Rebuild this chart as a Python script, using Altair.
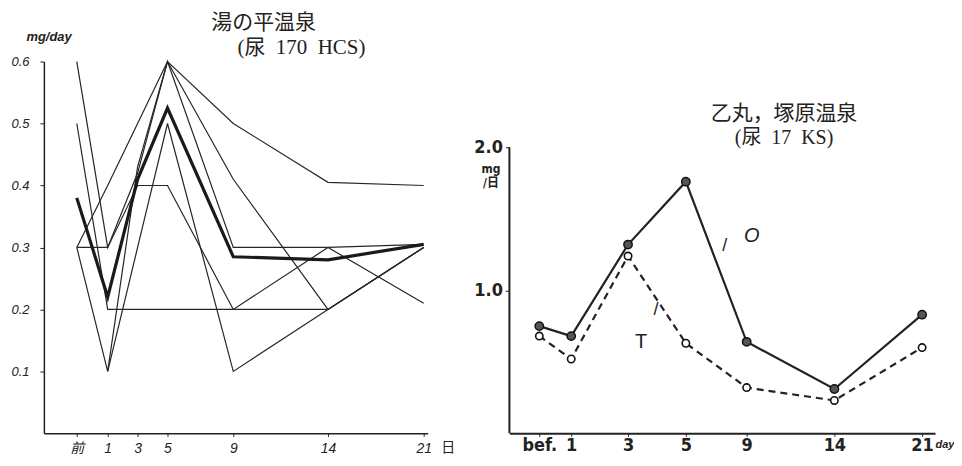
import json
import altair as alt
import pandas as pd

# ---------------- data ----------------
days = [-1, 1, 3, 5, 9, 14, 21]

# 湯の平温泉 (尿 170 HCS): individual curves, mg/day
yunohira_a = [0.60, 0.30, 0.42, 0.60, 0.50, 0.405, 0.40]
yunohira_b = [0.50, 0.20, 0.20, 0.20, 0.20, 0.20, 0.30]
yunohira_c = [0.30, 0.30, 0.40, 0.40, 0.20, 0.30, 0.21]
yunohira_d = [0.30, 0.10, 0.43, 0.60, 0.30, 0.30, 0.305]
yunohira_e = [0.30, 0.40, 0.50, 0.60, 0.41, 0.20, 0.30]
yunohira_f = [None, 0.10, 0.30, 0.50, 0.10, 0.20, 0.30]
yunohira_mean = [0.38, 0.22, 0.41, 0.525, 0.285, 0.28, 0.305]

# 乙丸，塚原温泉 (尿 17 KS)
tsukahara_O = [0.75, 0.68, 1.32, 1.76, 0.64, 0.31, 0.83]
tsukahara_T = [0.68, 0.52, 1.24, 0.63, 0.32, 0.23, 0.60]

left_y_ticks = [0.1, 0.2, 0.3, 0.4, 0.5, 0.6]
right_y_ticks = [1.0, 2.0]
left_day_labels = ["前", "1", "3", "5", "9", "14", "21"]
right_day_labels = ["bef.", "1", "3", "5", "9", "14", "21"]

# ---------------- tables ----------------
rows = []
for name, vals in [("a", yunohira_a), ("b", yunohira_b), ("c", yunohira_c),
                   ("d", yunohira_d), ("e", yunohira_e), ("f", yunohira_f)]:
    for d, v in zip(days, vals):
        if v is not None:
            rows.append({"day": d, "value": v, "series": name})
left_df = pd.DataFrame(rows)
mean_df = pd.DataFrame({"day": days, "value": yunohira_mean})

right_rows = []
for name, vals in [("O", tsukahara_O), ("T", tsukahara_T)]:
    for d, v in zip(days, vals):
        right_rows.append({"day": d, "value": v, "series": name})
right_df = pd.DataFrame(right_rows)

INK = "#222222"
TITLE_FONT = "Liberation Serif, Noto Sans CJK JP"
HAND = "Liberation Sans, Noto Sans CJK JP"
HAND2 = "DejaVu Sans Condensed, DejaVu Sans, Noto Sans CJK JP"


def label_expr(labels):
    return "%s[indexof(%s, datum.value)]" % (
        json.dumps(labels, ensure_ascii=False), json.dumps(days))


# ---------------- left panel ----------------
xl = alt.X(
    "day:Q",
    scale=alt.Scale(domain=[-3.2, -1, 1, 3, 5, 9, 14, 21, 21.3],
                    range=[0, 33, 64, 94, 124, 190, 285, 381, 385],
                    nice=False, zero=False),
    axis=alt.Axis(values=days, labelExpr=label_expr(left_day_labels),
                  title="日", titleX=405, titleY=14, titleAlign="center",
                  titleBaseline="middle", titleFontSize=14, titleFont=TITLE_FONT,
                  titleFontWeight="normal", titleColor=INK,
                  labelFont=HAND, labelFontStyle="italic", labelFontSize=14,
                  labelColor=INK, tickSize=3, labelPadding=5, grid=False,
                  domainColor=INK, tickColor=INK, domainWidth=1.5),
)
yl = alt.Y(
    "value:Q",
    scale=alt.Scale(domain=[0, 0.6], nice=False, zero=False),
    axis=alt.Axis(values=left_y_ticks, format=".1f", title="mg/day",
                  titleAngle=0, titleX=-18, titleY=-25, titleAlign="left",
                  titleBaseline="middle", titleFont=HAND, titleFontStyle="italic",
                  titleFontSize=13, titleFontWeight="bold", titleColor=INK,
                  labelFont=HAND, labelFontStyle="italic", labelFontSize=13,
                  labelColor=INK, tickSize=4, labelPadding=11, grid=False,
                  domainColor=INK, tickColor=INK, domainWidth=1.5),
)

thin = alt.Chart(left_df).mark_line(color="#262626", strokeWidth=1.2).encode(
    x=xl, y=yl, detail="series:N")
thick = alt.Chart(mean_df).mark_line(color="#1a1a1a", strokeWidth=3.2).encode(
    x=xl, y=yl)

left = alt.layer(thin, thick).properties(
    width=385, height=373,
    title=alt.TitleParams(
        text="湯の平温泉",
        subtitle="\u200b" + "\u00a0" * 5 + "(尿\u00a0\u00a0170\u00a0\u00a0HCS)",
        anchor="start", frame="group", dx=168, dy=31, offset=4,
        font=TITLE_FONT, subtitleFont=TITLE_FONT, fontSize=21,
        subtitleFontSize=21, fontWeight="normal", color=INK,
        subtitleColor=INK, subtitlePadding=4),
)

# ---------------- right panel ----------------
xr = alt.X(
    "day:Q",
    scale=alt.Scale(domain=[-3.13, -1, 1, 3, 5, 9, 14, 21, 22],
                    range=[0, 30, 62, 119, 177, 238, 326, 414, 427],
                    nice=False, zero=False),
    axis=alt.Axis(values=days, labelExpr=label_expr(right_day_labels),
                  title="day", titleX=427, titleY=11, titleAlign="left",
                  titleBaseline="middle", titleFontSize=11, titleFont=HAND,
                  titleFontWeight="bold", titleFontStyle="italic",
                  titleColor=INK,
                  labelFont=HAND2, labelFontSize=18, labelFontWeight="bold",
                  labelColor=INK, tickSize=3, labelPadding=0, grid=False,
                  domainColor=INK, tickColor=INK, domainWidth=2),
)
yr = alt.Y(
    "value:Q",
    scale=alt.Scale(domain=[0, 2.6], nice=False, zero=False),
    axis=alt.Axis(values=right_y_ticks, format=".1f", domain=False,
                  title=["mg", "/日"], titleAngle=0, titleX=-19, titleY=102,
                  titleAlign="center", titleBaseline="top", titleFont=HAND2,
                  titleFontSize=12, titleFontWeight="bold", titleColor=INK,
                  labelFont=HAND2, labelFontSize=18, labelFontWeight="bold",
                  labelColor=INK, tickSize=4, labelPadding=3, grid=False,
                  tickColor=INK),
)

base_r = alt.Chart(right_df)
axis_line = alt.Chart(alt.Data(values=[{}])).mark_rule(
    color=INK, strokeWidth=2).encode(
    x=alt.value(0), y=alt.datum(0), y2=alt.datum(2.0))
o_line = base_r.transform_filter(alt.datum.series == "O").mark_line(
    color=INK, strokeWidth=2.2).encode(x=xr, y=yr)
t_line = base_r.transform_filter(alt.datum.series == "T").mark_line(
    color=INK, strokeWidth=2.2, strokeDash=[7, 5]).encode(x=xr, y=yr)
o_pts = base_r.transform_filter(alt.datum.series == "O").mark_point(
    filled=True, fill="#555555", stroke="#111111", strokeWidth=1.5,
    size=70, opacity=1).encode(x=xr, y=yr)
t_pts = base_r.transform_filter(alt.datum.series == "T").mark_point(
    filled=True, fill="white", stroke="#111111", strokeWidth=1.6,
    size=55, opacity=1).encode(x=xr, y=yr)

o_at5 = base_r.transform_filter((alt.datum.series == "O") & (alt.datum.day == 5))
t_at5 = base_r.transform_filter((alt.datum.series == "T") & (alt.datum.day == 5))
o_lab = o_at5.mark_text(font=HAND, fontStyle="italic", fontSize=20, color=INK,
                        dx=66, dy=55).encode(x=xr, y=yr, text="series:N")
o_tick = o_at5.mark_text(font=HAND, fontSize=18, color=INK, dx=39, dy=65,
                         text="/").encode(x=xr, y=yr)
t_lab = t_at5.mark_text(font=HAND, fontSize=20, color=INK,
                        dx=-45, dy=-1).encode(x=xr, y=yr, text="series:N")
t_tick = t_at5.mark_text(font=HAND, fontSize=18, color=INK, dx=-30, dy=-33,
                         text="/").encode(x=xr, y=yr)

right = alt.layer(axis_line, t_line, o_line, t_pts, o_pts,
                  o_lab, o_tick, t_lab, t_tick).properties(
    width=427, height=373,
    title=alt.TitleParams(
        text="乙丸，塚原温泉", subtitle="(尿\u00a0\u00a017\u00a0\u00a0KS)",
        anchor="middle", frame="group", dx=62, dy=91, offset=4,
        font=TITLE_FONT, subtitleFont=TITLE_FONT, fontSize=21,
        subtitleFontSize=20, fontWeight="normal", color=INK,
        subtitleColor=INK, subtitlePadding=4),
)

chart = alt.hconcat(left, right, spacing=19).properties(
    padding={"left": 2, "top": 3, "right": 0, "bottom": 0},
    background="white",
).configure_view(stroke=None)

chart.save("out.html", embed_options={"renderer": "svg", "actions": False})
